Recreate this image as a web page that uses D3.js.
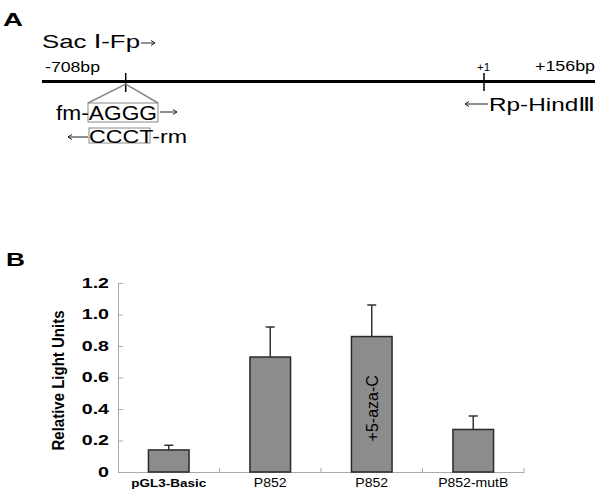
<!DOCTYPE html>
<html>
<head>
<meta charset="utf-8">
<script src="https://cdn.jsdelivr.net/npm/d3@7"></script>
<style>
  body { margin: 0; background: #fff; }
  svg { display: block; font-family: "Liberation Sans", Arial, "DejaVu Sans", "Noto Sans CJK SC", sans-serif; }
</style>
</head>
<body>
<svg></svg>
<script>
// panel B data
let categories = ["pGL3-Basic", "P852", "P852", "P852-mutB"];
let treatments = ["", "", "+5-aza-C", ""];
let means = [0.14, 0.73, 0.86, 0.27];
let errors = [0.03, 0.19, 0.20, 0.085];
let yTicks = [0, 0.2, 0.4, 0.6, 0.8, 1.0, 1.2];
let yTickLabels = ["0", "0.2", "0.4", "0.6", "0.8", "1.0", "1.2"];

let width = 600, height = 496;
let svg = d3.select("svg").attr("width", width).attr("height", height);

// the source figure uses wide glyphs, so stretch texts to the measured widths
let fit = (sel, w) => sel.attr("textLength", w).attr("lengthAdjust", "spacingAndGlyphs");
let stretch = (sel, k) => sel.each(function () {
  let w = this.getComputedTextLength();
  d3.select(this).attr("textLength", w * k).attr("lengthAdjust", "spacingAndGlyphs");
});

let addText = (x, y, str, size, weight) => svg.append("text")
  .attr("x", x).attr("y", y)
  .style("font-size", size + "px")
  .style("font-weight", weight || "normal")
  .text(str);

// small arrow like the "→" glyph in the figure
let arrow = (x1, x2, y) => {
  let dir = x2 > x1 ? 1 : -1;
  svg.append("path")
    .attr("d", `M${x1},${y}H${x2}M${x2 - dir * 4},${y - 2.5}L${x2},${y}L${x2 - dir * 4},${y + 2.5}`)
    .attr("fill", "none").attr("stroke", "#222").attr("stroke-width", 1);
};

// ---------- panel A: promoter map ----------
let drawMap = () => {
  fit(addText(3, 26, "A", 19, "bold"), 20);
  fit(addText(42, 48, "Sac \u2160-Fp", 19), 98);
  arrow(141, 155, 43);

  fit(addText(45, 72, "-708bp", 14), 55);
  fit(addText(535, 71, "+156bp", 14), 60);
  fit(addText(477, 71, "+1", 10), 13);

  svg.append("line").attr("x1", 42).attr("x2", 595).attr("y1", 81.5).attr("y2", 81.5)
    .attr("stroke", "#000").attr("stroke-width", 3);

  let site = 125.7, tss = 484;
  [[site, 73, 92], [tss, 73, 91]].forEach(t => {
    svg.append("line").attr("x1", t[0]).attr("x2", t[0]).attr("y1", t[1]).attr("y2", t[2])
      .attr("stroke", "#000").attr("stroke-width", 1.5);
  });

  // zoom-out lines to the mutated bases
  svg.append("path")
    .attr("d", `M88,103L${site},84L158,103`)
    .attr("fill", "none").attr("stroke", "#888").attr("stroke-width", 1.5);

  svg.append("rect").attr("x", 88).attr("y", 103).attr("width", 70).attr("height", 19)
    .attr("fill", "none").attr("stroke", "#888").attr("stroke-width", 1);
  fit(addText(56, 120, "fm-AGGG", 20), 101);
  arrow(160, 177, 112);

  arrow(88, 68, 137);
  svg.append("rect").attr("x", 89).attr("y", 128).attr("width", 61).attr("height", 15)
    .attr("fill", "none").attr("stroke", "#888").attr("stroke-width", 1);
  fit(addText(89, 143, "CCCT-rm", 19), 98);

  arrow(488, 465, 104);
  fit(addText(489, 111, "Rp-Hind\u2162", 19), 106);
};

// ---------- panel B: bar chart ----------
let x, y;

let generateScales = () => {
  x = d3.scaleBand()
    .domain(d3.range(categories.length))
    .range([118, 524])
    .paddingInner(0.6)
    .paddingOuter(0.3);

  y = d3.scaleLinear()
    .domain([0, 1.2])
    .range([472, 283]);
};

let generateAxes = () => {
  let yAxis = d3.axisLeft(y)
    .tickValues(yTicks)
    .tickFormat((d, i) => yTickLabels[i])
    .tickSize(-5)
    .tickSizeOuter(0)
    .tickPadding(9);

  let gy = svg.append("g")
    .attr("id", "y-axis")
    .attr("transform", `translate(${x.range()[0]},0)`)
    .call(yAxis);
  gy.select(".domain").attr("stroke", "#aaa");
  gy.selectAll(".tick line").attr("stroke", "#aaa");
  gy.selectAll(".tick text")
    .attr("fill", "#000")
    .style("font-size", "14px")
    .style("font-weight", "bold")
    .style("font-family", "'Liberation Sans', Arial, sans-serif")
    .call(stretch, 1.4);

  let xAxis = d3.axisBottom(x)
    .tickFormat(i => categories[i])
    .tickSize(0)
    .tickSizeOuter(0);

  let gx = svg.append("g")
    .attr("id", "x-axis")
    .attr("transform", `translate(0,${y(0)})`)
    .call(xAxis);
  gx.select(".domain").attr("stroke", "#aaa");
  gx.selectAll(".tick text")
    .attr("fill", "#000")
    .attr("y", 15).attr("dy", 0)
    .style("font-family", "'Liberation Sans', Arial, sans-serif")
    .style("font-size", i => i === 0 ? "11.5px" : "12px")
    .style("font-weight", i => i === 0 ? "bold" : "normal")
    .call(stretch, 1.17);

  // category separators, pointing up
  gx.selectAll(".sep")
    .data(d3.range(1, categories.length + 1))
    .enter()
    .append("line")
    .attr("class", "sep")
    .attr("x1", i => x.range()[0] + i * x.step())
    .attr("x2", i => x.range()[0] + i * x.step())
    .attr("y1", 0).attr("y2", -4)
    .attr("stroke", "#aaa");

  svg.append("text")
    .attr("transform", `translate(64,${(y(0) + y(1.2)) / 2 + 3}) rotate(-90)`)
    .attr("text-anchor", "middle")
    .attr("textLength", 140)
    .attr("lengthAdjust", "spacingAndGlyphs")
    .style("font-size", "16px")
    .style("font-weight", "bold")
    .text("Relative Light Units");
};

let drawBars = () => {
  let rows = means.map((m, i) => ({ i: i, m: m, e: errors[i], t: treatments[i] }));

  let bars = svg.append("g").attr("class", "bars");

  bars.selectAll(".err")
    .data(rows)
    .enter()
    .append("path")
    .attr("class", "err")
    .attr("d", d => {
      let cx = x(d.i) + x.bandwidth() / 2;
      return `M${cx},${y(d.m)}V${y(d.m + d.e)}M${cx - 4.5},${y(d.m + d.e)}H${cx + 4.5}`;
    })
    .attr("fill", "none")
    .attr("stroke", "#333")
    .attr("stroke-width", 1.5);

  bars.selectAll("rect")
    .data(rows)
    .enter()
    .append("rect")
    .attr("x", d => x(d.i))
    .attr("y", d => y(d.m))
    .attr("width", x.bandwidth())
    .attr("height", d => y(0) - y(d.m))
    .attr("fill", "#8c8c8c")
    .attr("stroke", "#2a2a2a")
    .attr("stroke-width", 1.5);

  bars.selectAll(".inlabel")
    .data(rows.filter(d => d.t))
    .enter()
    .append("text")
    .attr("class", "inlabel")
    .attr("transform", d => `translate(${x(d.i) + x.bandwidth() / 2 + 1},${(y(0) + y(d.m)) / 2 + 4}) rotate(-90)`)
    .attr("text-anchor", "middle")
    .attr("dy", "0.35em")
    .style("font-size", "16px")
    .text(d => d.t);
};

drawMap();
fit(addText(6, 266, "B", 19, "bold"), 19);
generateScales();
generateAxes();
drawBars();
</script>
</body>
</html>
